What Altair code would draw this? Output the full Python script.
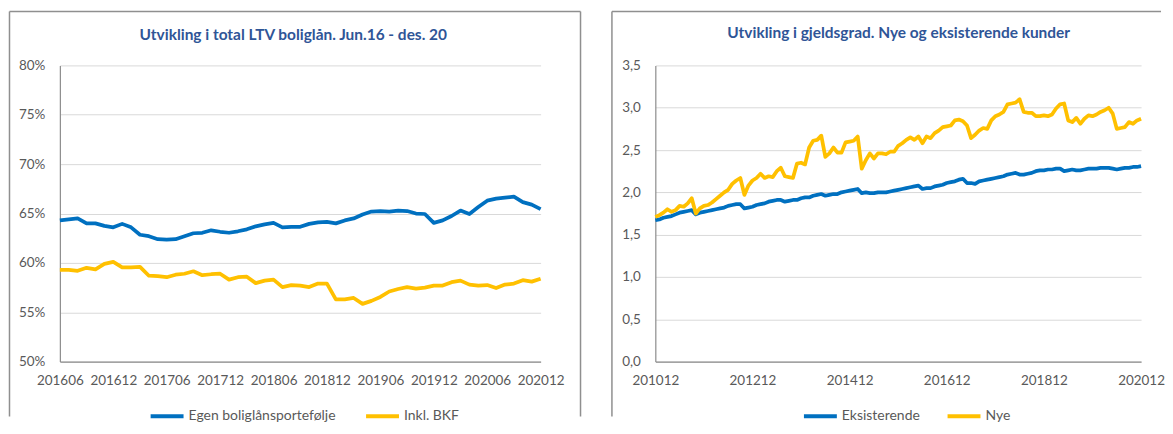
import altair as alt
import pandas as pd


def month_labels(year, month, count):
    labels = []
    for _ in range(count):
        labels.append(f"{year}{month:02d}")
        month += 1
        if month == 13:
            month, year = 1, year + 1
    return labels


# ---------------- Left chart: LTV (percent) ----------------
ltv_months = month_labels(2016, 6, 55)
ltv_ticks = ltv_months[::6]
ltv_series = ["Egen boliglånsportefølje", "Inkl. BKF"]
ltv_egen = [
    64.3, 64.4, 64.5, 64.0, 64.0, 63.75, 63.6, 63.95, 63.6, 62.85,
    62.7, 62.4, 62.35, 62.4, 62.7, 63.0, 63.05, 63.3, 63.15, 63.05,
    63.2, 63.4, 63.7, 63.9, 64.05, 63.6, 63.65, 63.65, 63.95, 64.1,
    64.15, 64.0, 64.3, 64.5, 64.9, 65.2, 65.25, 65.2, 65.3, 65.25,
    65.0, 64.95, 64.05, 64.3, 64.75, 65.3, 64.95, 65.65, 66.3, 66.5,
    66.6, 66.7, 66.15, 65.9, 65.45,
]
ltv_bkf = [
    59.3, 59.3, 59.2, 59.5, 59.35, 59.9, 60.1, 59.55, 59.55, 59.6,
    58.7, 58.65, 58.55, 58.8, 58.9, 59.15, 58.75, 58.85, 58.9, 58.3,
    58.55, 58.6, 57.95, 58.2, 58.3, 57.55, 57.75, 57.7, 57.55, 57.9,
    57.9, 56.3, 56.3, 56.45, 55.85, 56.15, 56.55, 57.1, 57.35, 57.55,
    57.4, 57.5, 57.7, 57.7, 58.05, 58.2, 57.8, 57.7, 57.75, 57.45,
    57.8, 57.9, 58.25, 58.1, 58.4,
]
ltv_yticks = [50, 55, 60, 65, 70, 75, 80]
ltv_title = "Utvikling i total LTV boliglån. Jun.16 - des. 20"

# ---------------- Right chart: gjeldsgrad ----------------
gg_months = month_labels(2010, 12, 121)
gg_ticks = gg_months[::24]
gg_series = ["Eksisterende", "Nye"]
gg_eks = [
    1.67, 1.68, 1.70, 1.71, 1.72, 1.74, 1.76, 1.77, 1.78, 1.79,
    1.74, 1.76, 1.77, 1.78, 1.79, 1.80, 1.81, 1.82, 1.84, 1.85,
    1.86, 1.86, 1.81, 1.82, 1.83, 1.85, 1.86, 1.87, 1.89, 1.90,
    1.91, 1.91, 1.89, 1.90, 1.91, 1.91, 1.93, 1.94, 1.94, 1.96,
    1.97, 1.98, 1.96, 1.97, 1.98, 1.98, 2.00, 2.01, 2.02, 2.03,
    2.04, 1.99, 2.00, 1.99, 1.99, 2.00, 2.00, 2.00, 2.01, 2.02,
    2.03, 2.04, 2.05, 2.06, 2.07, 2.08, 2.04, 2.05, 2.05, 2.07,
    2.08, 2.09, 2.11, 2.12, 2.13, 2.15, 2.16, 2.11, 2.11, 2.10,
    2.13, 2.14, 2.15, 2.16, 2.17, 2.18, 2.19, 2.21, 2.22, 2.23,
    2.21, 2.21, 2.22, 2.23, 2.25, 2.26, 2.26, 2.27, 2.27, 2.28,
    2.28, 2.25, 2.26, 2.27, 2.26, 2.26, 2.27, 2.28, 2.28, 2.28,
    2.29, 2.29, 2.29, 2.28, 2.27, 2.28, 2.29, 2.29, 2.30, 2.30,
    2.31,
]
gg_nye = [
    1.71, 1.73, 1.76, 1.80, 1.77, 1.79, 1.84, 1.83, 1.87, 1.93,
    1.75, 1.81, 1.84, 1.85, 1.88, 1.92, 1.96, 2.00, 2.03, 2.10,
    2.14, 2.17, 1.97, 2.08, 2.14, 2.17, 2.22, 2.17, 2.19, 2.18,
    2.25, 2.29, 2.19, 2.18, 2.17, 2.34, 2.35, 2.33, 2.53, 2.61,
    2.62, 2.67, 2.42, 2.46, 2.53, 2.47, 2.47, 2.59, 2.60, 2.61,
    2.66, 2.28, 2.38, 2.46, 2.40, 2.46, 2.46, 2.45, 2.48, 2.48,
    2.55, 2.58, 2.62, 2.65, 2.62, 2.66, 2.58, 2.66, 2.64, 2.70,
    2.73, 2.77, 2.78, 2.79, 2.85, 2.86, 2.84, 2.79, 2.64, 2.68,
    2.73, 2.76, 2.75, 2.85, 2.90, 2.92, 2.95, 3.04, 3.05, 3.06,
    3.10, 2.95, 2.94, 2.94, 2.90, 2.90, 2.91, 2.90, 2.92, 2.99,
    3.04, 3.05, 2.85, 2.83, 2.88, 2.81, 2.87, 2.91, 2.90, 2.92,
    2.95, 2.97, 3.00, 2.93, 2.75, 2.76, 2.77, 2.83, 2.81, 2.85,
    2.87,
]
gg_yticks = [0.0, 0.5, 1.0, 1.5, 2.0, 2.5, 3.0, 3.5]
gg_title = "Utvikling i gjeldsgrad. Nye og eksisterende kunder"

# ---------------- style ----------------
FONT = "Lato"
BLUE = "#0070C0"
YELLOW = "#FFC000"
GRID = "#D9D9D9"
AXIS = "#8C8C8C"
FRAME = "#8F8F8F"
LABEL = "#595959"
TITLE = "#2F5597"
HEIGHT = 297

one = pd.DataFrame({"k": [0]})


def frame_rule(x1, x2, y1, y2):
    return alt.Chart(one).mark_rule(color=FRAME, strokeWidth=1.5).encode(
        x=alt.value(x1), x2=alt.value(x2), y=alt.value(y1), y2=alt.value(y2)
    )


def panel(months, ticks, s1, s2, series, ydomain, yticks, label_expr, width,
          title, tx, ty, legend_x, legend_pad, ylab_pad, frames):
    df = pd.DataFrame({
        "maned": months * 2,
        "verdi": s1 + s2,
        "serie": [series[0]] * len(months) + [series[1]] * len(months),
    })
    lines = alt.Chart(df).mark_line(strokeWidth=3.75, strokeJoin="round").encode(
        x=alt.X("maned:O", sort=months,
                scale=alt.Scale(type="point", padding=0),
                axis=alt.Axis(values=ticks, labelAngle=0, title=None, ticks=False,
                              grid=False, domainColor=AXIS, domainWidth=1.2,
                              labelColor=LABEL, labelFont=FONT, labelFontSize=13.5,
                              labelPadding=12)),
        y=alt.Y("verdi:Q",
                scale=alt.Scale(domain=ydomain, nice=False, zero=False),
                axis=alt.Axis(values=yticks, labelExpr=label_expr, title=None,
                              ticks=False, grid=True, gridColor=GRID,
                              domainColor=AXIS, domainWidth=1.2,
                              labelColor=LABEL, labelFont=FONT,
                              labelFontSize=13.5, labelPadding=ylab_pad)),
        color=alt.Color("serie:N",
                        scale=alt.Scale(domain=series, range=[BLUE, YELLOW]),
                        legend=alt.Legend(title=None, orient="none",
                                          legendX=legend_x, legendY=333,
                                          direction="horizontal",
                                          symbolType="stroke",
                                          symbolStrokeWidth=4,
                                          symbolSize=1089,
                                          labelFont=FONT, labelFontSize=14,
                                          labelColor=LABEL, labelOffset=3,
                                          columnPadding=legend_pad)),
    )
    title_mark = alt.Chart(one).mark_text(
        text=title, font=FONT, fontSize=15.5, fontWeight="bold", color=TITLE,
        align="center", baseline="middle"
    ).encode(x=alt.value(tx), y=alt.value(ty))
    layers = [frame_rule(*f) for f in frames] + [lines, title_mark]
    return alt.layer(*layers).properties(width=width, height=HEIGHT)


left = panel(
    ltv_months, ltv_ticks, ltv_egen, ltv_bkf, ltv_series, [50, 80], ltv_yticks,
    "datum.value + '%'", 482, ltv_title, 234, -30, 89, 22, 15,
    [(-50.5, -50.5, -54, 352), (-50.5, 522, -54, -54), (522, 522, -54, 352)],
)
right = panel(
    gg_months, gg_ticks, gg_eks, gg_nye, gg_series, [0, 3.5], gg_yticks,
    "replace(format(datum.value, '.1f'), '.', ',')", 487, gg_title, 244, -32,
    147, 19, 15,
    [(-43.5, -43.5, -54, 352), (-43.5, 507, -54, -54)],
)

chart = alt.hconcat(left, right, spacing=115, bounds="flush").resolve_scale(
    color="independent", x="independent", y="independent"
).resolve_legend(color="independent").properties(
    padding={"left": 0, "top": 2, "right": 0, "bottom": 0}
).configure(font=FONT).configure_view(stroke=None)

chart.save("out.html", embed_options={"renderer": "svg", "actions": False})
